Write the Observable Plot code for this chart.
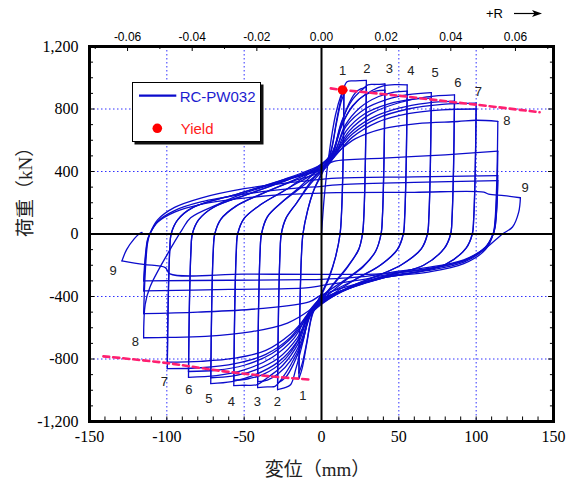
<!DOCTYPE html>
<html><head><meta charset="utf-8">
<script src="https://cdn.jsdelivr.net/npm/d3@7"></script>
<script src="https://cdn.jsdelivr.net/npm/@observablehq/plot@0.6"></script>
<style>
body{margin:0;background:#fff;}
#wrap{position:relative;width:575px;height:490px;background:#fff;}
#legend{position:absolute;left:132px;top:82px;width:129px;height:60px;box-sizing:border-box;border:1.5px solid #000;background:#fff;box-shadow:2.5px 2.5px 0 #111;font-family:"Liberation Sans",Arial,sans-serif;font-size:15px;line-height:15px;}
#legend span{position:absolute;white-space:nowrap;}
#rlab{position:absolute;left:486px;top:6px;font-family:"Liberation Sans",Arial,sans-serif;font-size:13px;line-height:15px;color:#000;}
</style></head>
<body>
<div id="wrap">
  <div id="rlab">+R</div>
  <svg style="position:absolute;left:510px;top:6px" width="36" height="16">
    <line x1="4" y1="7.5" x2="26" y2="7.5" stroke="#000" stroke-width="1.2"/>
    <polygon points="32,7.5 22,4 24.5,7.5 22,11" fill="#000"/>
  </svg>
</div>
<script>
// ---- axes / ticks ----
const H = 2090; // specimen height (mm) used for drift R = δ / H
const xTicks = [-150, -100, -50, 0, 50, 100, 150];
const yTicks = [-1200, -800, -400, 0, 400, 800, 1200];
const driftTicks = [-0.06, -0.04, -0.02, 0, 0.02, 0.04, 0.06];
const driftMinor = [-0.07, -0.05, -0.03, -0.01, 0.01, 0.03, 0.05, 0.07];
const gridX = [-100, -50, 50, 100];
const gridY = [-800, -400, 400, 800];
const xMinor = [-140,-130,-120,-110,-100,-90,-80,-70,-60,-50,-40,-30,-20,-10,10,20,30,40,50,60,70,80,90,100,110,120,130,140];
const yMinor = [-1100,-1000,-900,-700,-600,-500,-300,-200,-100,100,200,300,500,600,700,900,1000,1100];
const yMajorInner = [-800, -400, 400, 800];

// ---- hysteresis branches (displacement mm, load kN) ----
const init   = [[0,0],[2,260],[5,520],[9,760],[12.5,885],[14.5,930]];
const down1a = [[14.5,930],[14,500],[13,150],[12,0],[9,-150],[5,-280],[0,-390],[-6,-520],[-9.5,-700],[-12.5,-860],[-14.6,-925]];
const up1a   = [[-14.6,-925],[-14,-500],[-13,-150],[-12,0],[-9,150],[-5,280],[0,380],[6,520],[9.5,700],[12.5,840],[14.5,895]];
const down1b = [[14.5,895],[14,480],[13,140],[12,0],[9,-150],[5,-270],[0,-380],[-6,-510],[-9.5,-690],[-12.5,-830],[-14.6,-890]];
const up1b   = [[-14.6,-890],[-14,-480],[-13,-140],[-12,0],[-9,150],[-5,280],[0,390],[6,530],[10,740],[13.5,900],[16.5,975],[22,980],[29,983]];
const down2a = [[29,983],[28.4,490],[27.4,120],[26.5,0],[24,-100],[17,-210],[8,-320],[0,-410],[-7,-500],[-12,-690],[-16.5,-860],[-20,-965],[-24,-985],[-28.4,-996]];
const up2a   = [[-28.4,-996],[-27.8,-500],[-26.8,-120],[-26,0],[-23,100],[-16,200],[-8,310],[0,400],[7,500],[12,680],[18,840],[23,915],[29,940]];
const down2b = [[29,940],[28.4,470],[27.4,115],[26.5,0],[24,-100],[17,-205],[8,-315],[0,-425],[-7,-505],[-12,-680],[-18,-830],[-23,-915],[-28.4,-955]];
const up2b   = [[-28.4,-955],[-27.8,-480],[-26.8,-115],[-26,0],[-23,100],[-16,200],[-8,320],[0,420],[7,515],[13,720],[20,860],[27,930],[30,955],[35,957],[41,960]];
const down3a = [[41,960],[40.4,480],[39.4,115],[38.5,0],[35,-110],[27,-210],[15,-300],[0,-430],[-7,-520],[-13,-700],[-20,-840],[-26,-930],[-30,-975],[-35,-978],[-41.3,-983]];
const up3a   = [[-41.3,-983],[-40.7,-490],[-39.7,-118],[-38.8,0],[-35,110],[-26,200],[-13,300],[0,410],[7,505],[13,690],[20,820],[28,890],[35,915],[41,920]];
const down3b = [[41,920],[40.4,460],[39.4,110],[38.5,0],[35,-110],[27,-205],[15,-295],[0,-400],[-7,-495],[-13,-680],[-20,-810],[-28,-895],[-35,-935],[-41.3,-945]];
const up3b   = [[-41.3,-945],[-40.7,-470],[-39.7,-113],[-38.8,0],[-35,110],[-26,200],[-13,310],[0,440],[7,525],[14,720],[23,850],[33,920],[40,948],[48,956],[55.4,955]];
const down4a = [[55.4,955],[54.8,478],[53.8,115],[52.9,0],[49,-100],[38,-200],[22,-290],[0,-440],[-8,-520],[-15,-700],[-25,-840],[-35,-920],[-42,-965],[-50,-968],[-56.7,-970]];
const up4a   = [[-56.7,-970],[-56.1,-485],[-55.1,-116],[-54.2,0],[-50,100],[-39,190],[-22,290],[0,420],[8,505],[15,690],[25,810],[37,880],[47,908],[55.4,915]];
const down4b = [[55.4,915],[54.8,458],[53.8,110],[52.9,0],[49,-100],[38,-200],[22,-290],[0,-410],[-8,-495],[-15,-680],[-25,-815],[-37,-895],[-48,-928],[-56.7,-935]];
const up4b   = [[-56.7,-935],[-56.1,-468],[-55.1,-112],[-54.2,0],[-50,100],[-39,190],[-22,290],[0,450],[8,520],[16,690],[28,800],[42,860],[56,892],[71,905]];
const down5a = [[71,905],[70.4,452],[69.4,108],[68.5,0],[64.5,-95],[52,-195],[38,-260],[18,-340],[0,-430],[-8,-510],[-16,-690],[-28,-820],[-44,-905],[-58,-945],[-71.6,-957]];
const up5a   = [[-71.6,-957],[-71,-478],[-70,-115],[-69,0],[-65,95],[-55,180],[-38,260],[-18,340],[0,400],[8,490],[16,660],[28,770],[44,835],[58,862],[71,870]];
const down5b = [[71,870],[70.4,435],[69.4,104],[68.5,0],[64.5,-95],[52,-195],[38,-260],[18,-340],[0,-450],[-8,-525],[-16,-670],[-28,-795],[-44,-875],[-58,-910],[-71.6,-920]];
const up5b   = [[-71.6,-920],[-71,-460],[-70,-110],[-69,0],[-65,95],[-55,180],[-38,260],[-18,345],[0,430],[8,505],[18,660],[32,770],[50,840],[68,878],[86,891]];
const down6a = [[86,891],[85.4,445],[84.4,107],[83.5,0],[79.5,-90],[66,-200],[49,-250],[35,-285],[18,-345],[0,-420],[-8,-505],[-18,-670],[-32,-790],[-50,-870],[-68,-907],[-86,-917]];
const up6a   = [[-86,-917],[-85.4,-458],[-84.4,-110],[-83.5,0],[-79.5,90],[-70,170],[-46,260],[-21,350],[0,415],[8,495],[18,640],[32,740],[50,805],[68,838],[86,850]];
const down6b = [[86,850],[85.4,425],[84.4,102],[83.5,0],[79.5,-90],[66,-200],[49,-250],[35,-285],[18,-345],[0,-440],[-8,-515],[-18,-650],[-32,-765],[-50,-840],[-68,-872],[-86,-880]];
const up6b   = [[-86,-880],[-85.4,-440],[-84.4,-105],[-83.5,0],[-79.5,90],[-70,170],[-46,260],[-21,350],[0,440],[8,510],[20,640],[36,740],[56,800],[78,830],[100,838]];
const down7a = [[100,838],[99.4,419],[98.4,100],[97.5,0],[93.5,-90],[80,-195],[55,-255],[38,-285],[20,-340],[0,-425],[-8,-500],[-20,-660],[-36,-770],[-56,-830],[-78,-856],[-99.7,-862]];
const up7a   = [[-99.7,-862],[-99.1,-431],[-98.1,-103],[-97.2,0],[-93,90],[-83,170],[-53,260],[-24,350],[0,420],[8,490],[20,620],[36,715],[56,770],[78,795],[100,800]];
const down7b = [[100,800],[99.4,400],[98.4,96],[97.5,0],[93.5,-90],[80,-195],[55,-255],[38,-285],[20,-340],[0,-445],[-8,-515],[-20,-640],[-36,-745],[-56,-795],[-78,-815],[-99.7,-820]];
const up7b   = [[-99.7,-820],[-99.1,-410],[-98.1,-98],[-97.2,0],[-93,90],[-83,170],[-53,260],[-24,350],[0,445],[8,505],[22,610],[40,675],[62,707],[88,720],[100,728],[114,721]];
const down8a = [[114,721],[113.4,360],[112.2,86],[111,0],[106,-100],[92,-190],[68,-245],[45,-270],[30,-310],[0,-420],[-8,-490],[-22,-570],[-45,-625],[-75,-655],[-100,-662],[-115,-664]];
const up8a   = [[-115,-664],[-114,-450],[-111,-342],[-99.7,-130],[-90,30],[-84.6,104],[-67,190],[-52,253],[-25,340],[0,430],[8,465],[40,485],[80,507],[114,530]];
const down8b = [[114,530],[113.4,265],[112.2,64],[111,0],[106,-90],[92,-180],[68,-235],[45,-265],[30,-300],[0,-390],[-8,-435],[-40,-478],[-80,-500],[-115,-510]];
const up8b   = [[-115,-510],[-114,-255],[-112.5,-60],[-111,0],[-106,90],[-95,170],[-78,230],[-50,290],[-20,330],[0,350],[10,358],[60,366],[114,374]];
const down8c = [[114,374],[113.4,187],[112.2,45],[111,0],[106,-85],[92,-170],[68,-225],[45,-255],[30,-285],[0,-330],[-10,-345],[-60,-355],[-115,-364]];
const up8c   = [[-115,-364],[-114,-182],[-112.5,-44],[-111,0],[-106,80],[-95,150],[-78,205],[-50,255],[-20,290],[0,305],[10,315],[60,330],[114,342]];
const down8d = [[114,342],[113.4,171],[112.2,41],[111,0],[106,-85],[92,-165],[68,-215],[45,-245],[30,-270],[0,-290],[-10,-292],[-60,-296],[-115,-300]];
const up8d   = [[-115,-300],[-114,-150],[-112.5,-36],[-111,0],[-106,75],[-95,140],[-78,190],[-50,230],[-20,255],[0,262],[10,265],[60,267],[105,268],[108,255],[118,245],[128.6,232]];
const down9  = [[128.6,232],[127.5,140],[123.5,45],[117,0],[105,-100],[92.5,-170],[66.6,-225],[38,-255],[0,-258],[-50,-257],[-98,-255],[-101,-215],[-115,-195],[-129,-172]];
const end9   = [[-129,-172],[-126,-100],[-121,-30],[-118,0],[-116,10]];

const branches = [init, down1a, up1a, down1b, up1b, down2a, up2a, down2b, up2b,
  down3a, up3a, down3b, up3b, down4a, up4a, down4b, up4b, down5a, up5a, down5b, up5b,
  down6a, up6a, down6b, up6b, down7a, up7a, down7b, up7b, down8a, up8a, down8b, up8b,
  down8c, up8c, down8d, up8d, down9, end9];

// skeleton (envelope) lines and yield point
const envPos = [[6,932],[13.6,922],[49,886],[86,843],[100,828],[141,779]];
const envNeg = [[-141,-783],[-100,-826],[-63,-879],[-33,-911],[-7,-932]];
const yieldPt = [[13.6,922]];

// cycle number labels
const cycleNames = ["1","2","3","4","5","6","7","8","9"];
const posLabX = [13.6, 29.3, 43.8, 57.8, 73.4, 88.1, 101.4, 119.8, 131.7];
const posLabY = [1046, 1057, 1057, 1046, 1029, 965, 913, 725, 297];
const negLabX = [-12.0, -28.5, -41.5, -58.3, -72.9, -85.8, -101.6, -120.4, -134.8];
const negLabY = [-1033, -1076, -1072, -1072, -1057, -997, -948, -687, -237];

// ---- build tables ----
const hyst = branches.flatMap((pts, b) => pts.map(([x, y]) => ({x, y, b})));
const toXY = pts => pts.map(([x, y]) => ({x, y}));
const labels = cycleNames.flatMap((t, i) => [
  {x: posLabX[i], y: posLabY[i], t}, {x: negLabX[i], y: negLabY[i], t}
]);
const fmtNum = d => (d < 0 ? "-" : "") + d3.format(",")(Math.abs(d));
const topPos = driftTicks.map(r => r * H);
const topLabelOf = new Map(topPos.map((p, i) => [p, driftTicks[i].toFixed(2)]));

const BLUE = "#0b0bcc";
const serif = "Liberation Serif, Times New Roman, serif";
const sans = "Liberation Sans, Arial, sans-serif";

const chart = Plot.plot({
  width: 575, height: 490,
  marginLeft: 89, marginRight: 22, marginTop: 46, marginBottom: 69,
  x: {domain: [-150, 150], axis: null},
  y: {domain: [-1200, 1200], axis: null},
  style: {background: "white", color: "black", fontFamily: serif, overflow: "visible"},
  marks: [
    Plot.ruleX(gridX, {stroke: "#3030ff", strokeWidth: 1, strokeDasharray: "1.5,2.5"}),
    Plot.ruleY(gridY, {stroke: "#3030ff", strokeWidth: 1, strokeDasharray: "1.5,2.5"}),
    Plot.line(hyst, {x: "x", y: "y", z: "b", stroke: BLUE, strokeWidth: 1.3, curve: "catmull-rom"}),
    Plot.ruleX([0], {stroke: "black", strokeWidth: 2}),
    Plot.ruleY([0], {stroke: "black", strokeWidth: 2}),
    Plot.line(toXY(envPos), {x: "x", y: "y", stroke: "#ff2070", strokeWidth: 2.6, strokeDasharray: "6,4", curve: "catmull-rom"}),
    Plot.line(toXY(envNeg), {x: "x", y: "y", stroke: "#ff2070", strokeWidth: 2.6, strokeDasharray: "6,4", curve: "catmull-rom"}),
    Plot.dot(toXY(yieldPt), {x: "x", y: "y", r: 4.8, fill: "#ff0000", stroke: "none"}),
    Plot.text(labels, {x: "x", y: "y", text: "t", fontFamily: sans, fontSize: 13, fill: "#222"}),
    // inward ticks
    Plot.ruleX(xMinor, {y1: -1200, y2: -1171, stroke: "black", strokeWidth: 1}),
    Plot.ruleX(topPos, {y1: 1200, y2: 1168, stroke: "black", strokeWidth: 1}),
    Plot.ruleX(driftMinor.map(r => r * H), {y1: 1200, y2: 1181, stroke: "black", strokeWidth: 1}),
    Plot.ruleY(yMinor, {x1: -150, x2: -147.4, stroke: "black", strokeWidth: 1}),
    Plot.ruleY(yMajorInner, {x1: -150, x2: -146.4, stroke: "black", strokeWidth: 1}),
    Plot.ruleY(yMinor, {x1: 150, x2: 148, stroke: "black", strokeWidth: 1}),
    Plot.ruleY(yMajorInner, {x1: 150, x2: 146.8, stroke: "black", strokeWidth: 1}),
    Plot.frame({stroke: "black", strokeWidth: 3}),
    // axes
    Plot.axisX({anchor: "bottom", ticks: xTicks, tickSize: 0, tickPadding: 9, tickFormat: fmtNum, fontSize: 16, fontFamily: serif, label: null}),
    Plot.axisY({anchor: "left", ticks: yTicks, tickSize: 0, tickPadding: 11, tickFormat: fmtNum, fontSize: 16, fontFamily: serif, label: null}),
    Plot.axisX({anchor: "top", ticks: topPos, tickSize: 0, tickPadding: 6, tickFormat: d => topLabelOf.get(d), fontSize: 12, fontFamily: sans, label: null}),
    // titles
    Plot.text(["変位（mm）"], {frameAnchor: "bottom", dy: 54, dx: -4, text: d => d, fontSize: 19, fontFamily: "Liberation Serif, Noto Sans CJK JP", fill: "#222"}),
    Plot.text(["荷重（kN）"], {frameAnchor: "left", dx: -64, dy: 3, rotate: -90, text: d => d, fontSize: 19, fontFamily: "Liberation Serif, Noto Sans CJK JP", fill: "#222"})
  ]
});
const wrap = document.getElementById("wrap");
wrap.insertBefore(chart, wrap.firstChild);
chart.style.position = "absolute";
chart.style.left = "0px";
chart.style.top = "0px";

// legend
const lg = document.createElement("div");
lg.id = "legend";
lg.innerHTML = `
  <svg width="126" height="57" style="position:absolute;left:0;top:0">
    <line x1="6" y1="12.7" x2="43.3" y2="12.7" stroke="${BLUE}" stroke-width="2.2"/>
    <circle cx="24.3" cy="45.3" r="4.8" fill="#ff0000"/>
  </svg>
  <span style="left:46.7px;top:5.5px;color:#1c1ccf">RC-PW032</span>
  <span style="left:47.7px;top:38px;color:#ff1a1a">Yield</span>`;
wrap.appendChild(lg);
</script>
</body></html>
